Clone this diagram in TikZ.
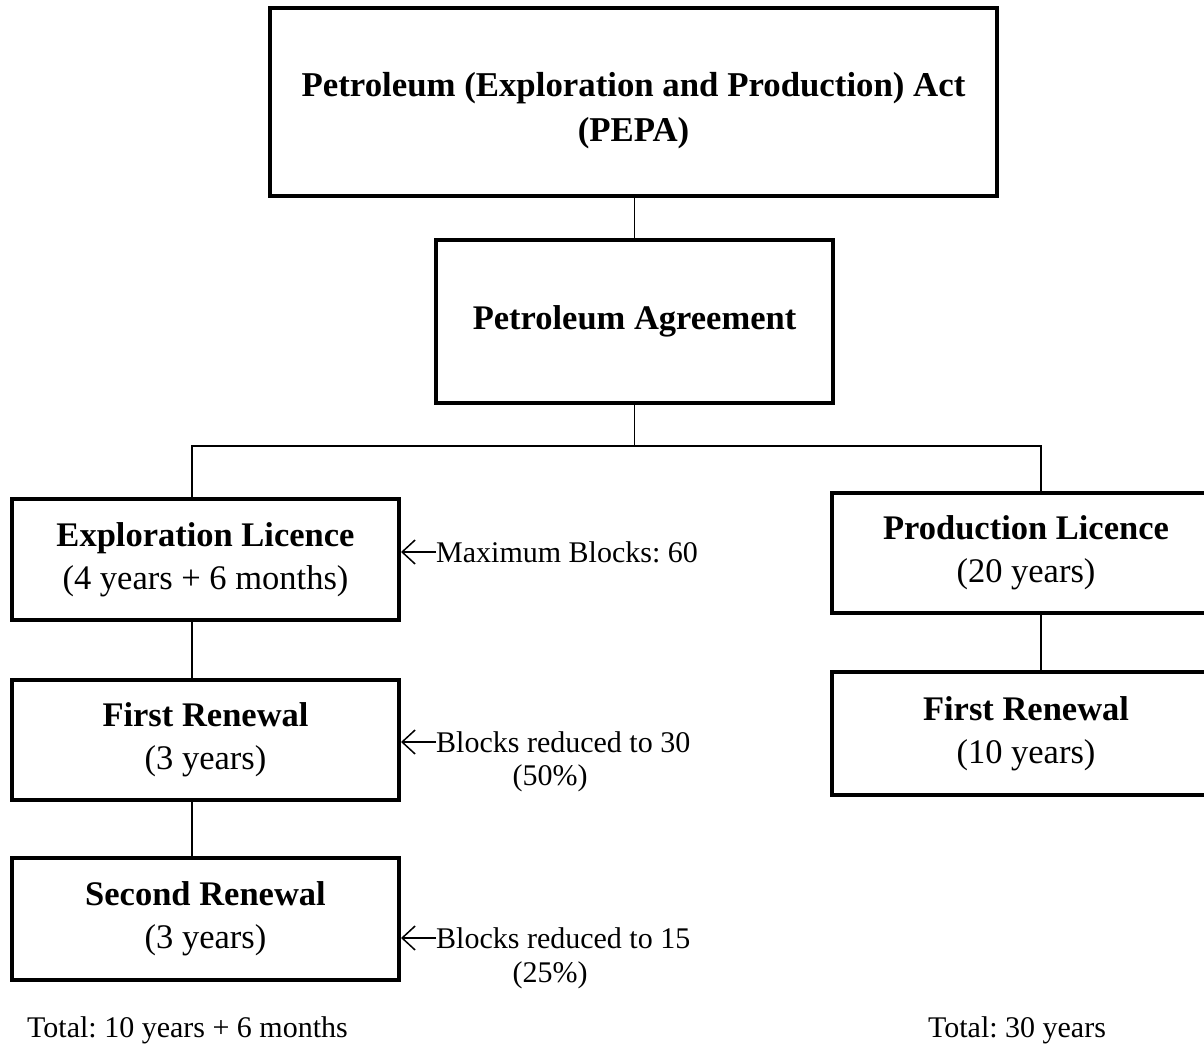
\documentclass[tikz,border=0pt]{standalone}
\usepackage{fontspec}
\setmainfont{Liberation Serif}
\usetikzlibrary{arrows.meta}
\frenchspacing
\begin{document}
\begin{tikzpicture}[x=1pt,y=-1pt,
  box/.style={draw=black,line width=4pt,fill=white,align=center,inner sep=0pt,
    font=\fontsize{34.5}{43}\selectfont},
  conn/.style={draw=black,line width=1.4pt},
  ann/.style={font=\fontsize{30}{36}\selectfont,inner sep=0pt},
  tot/.style={font=\fontsize{30}{36}\selectfont,inner sep=0pt},
  pointer/.style={draw=black,line width=1.5pt,-{Straight Barb[length=13pt,width=24pt,line width=1.5pt]}}]
\useasboundingbox[fill=white] (0,0) rectangle (1204,1060);
\begin{scope}
\clip (0,0) rectangle (1204,1060);
\node[box,minimum width=727pt,minimum height=188pt] (top) at (633.5,102) {};
\node[align=center,inner sep=0pt,font=\fontsize{34.8}{45}\selectfont] (toptxt) at (633.5,111)
  {\textbf{Petroleum (Exploration and Production) Act}\\\textbf{(PEPA)}};
\node[box,minimum width=397pt,minimum height=163pt] (pa) at (634.5,321.5)
  {\textbf{Petroleum Agreement}};
\node[box,minimum width=387pt,minimum height=121pt] (expl) at (205.5,559.5)
  {\textbf{Exploration Licence}\\(4 years + 6 months)};
\node[box,minimum width=387pt,minimum height=120pt] (fr1) at (205.5,740)
  {\textbf{First Renewal}\\(3 years)};
\node[box,minimum width=387pt,minimum height=122pt] (sr) at (205.5,919)
  {\textbf{Second Renewal}\\(3 years)};
\node[box,minimum width=388pt,minimum height=120pt] (prod) at (1026,553)
  {\textbf{Production Licence}\\(20 years)};
\node[box,minimum width=388pt,minimum height=123pt] (fr2) at (1026,733.5)
  {\textbf{First Renewal}\\(10 years)};
\end{scope}
\coordinate (jl) at (192,446);
\coordinate (jr) at (1041,446);
\draw[conn] (top.south -| pa.north) -- (pa.north);
\draw[conn] (pa.south) -- (pa.south |- jl);
\draw[conn] (expl.north -| jl) -- (jl) -- (jr) -- (prod.north -| jr);
\draw[conn] (expl.south -| jl) -- (fr1.north -| jl);
\draw[conn] (fr1.south -| jl) -- (sr.north -| jl);
\draw[conn] (prod.south -| jr) -- (fr2.north -| jr);
\node[ann,anchor=west] (a1) at (436,552) {Maximum Blocks: 60};
\node[ann,anchor=west] (a2) at (436,742) {Blocks reduced to 30};
\node[ann] (a2b) at (550,778) {(50\%)};
\node[ann,anchor=west] (a3) at (436,938) {Blocks reduced to 15};
\node[ann] (a3b) at (550,975) {(25\%)};
\draw[pointer] (a1.west) -- (expl.east |- a1.west);
\draw[pointer] (a2.west) -- (fr1.east |- a2.west);
\draw[pointer] (a3.west) -- (sr.east |- a3.west);
\node[tot,anchor=west] (t1) at (27,1030) {Total: 10 years + 6 months};
\node[tot] (t2) at (1017,1030) {Total: 30 years};
\end{tikzpicture}
\end{document}
